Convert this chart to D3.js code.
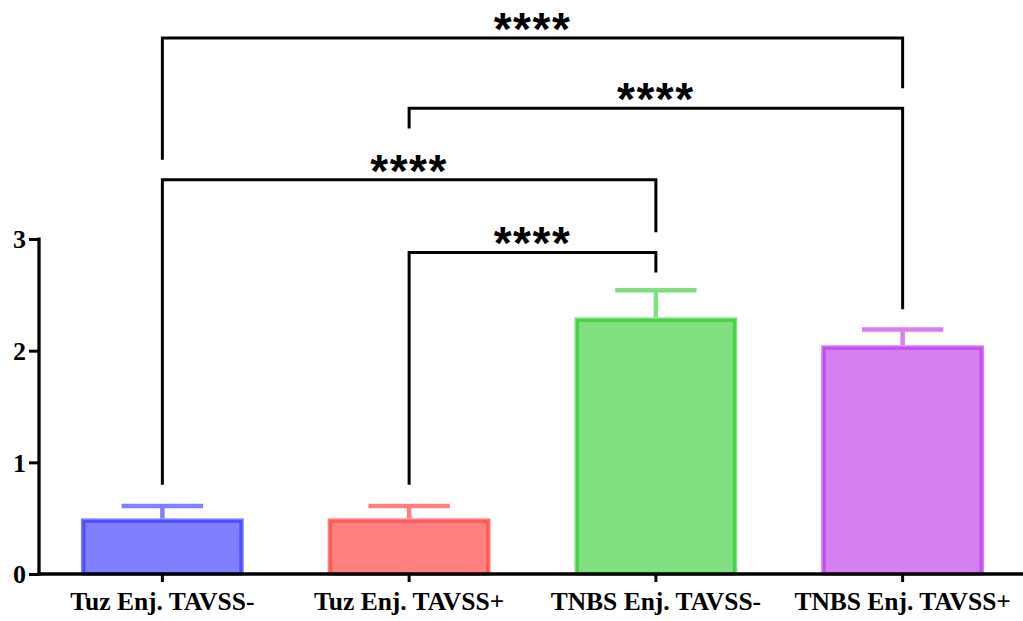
<!DOCTYPE html>
<html>
<head>
<meta charset="utf-8">
<script src="https://cdn.jsdelivr.net/npm/d3@7"></script>
<style>
  html, body { margin: 0; padding: 0; background: #fff; }
  svg { display: block; }
</style>
</head>
<body>
<svg id="chart" width="1023" height="621"></svg>
<script>
// Group labels and their means / upper error (mean + SD)
const groups = ["Tuz Enj. TAVSS-", "Tuz Enj. TAVSS+", "TNBS Enj. TAVSS-", "TNBS Enj. TAVSS+"];
const means = [0.48, 0.48, 2.28, 2.03];
const errors = [0.13, 0.13, 0.26, 0.16];
const fills = ["#8080ff", "#ff8080", "#80e080", "#d580f0"];
const strokes = ["#4f4fff", "#ff5a5a", "#48d048", "#c44ff0"];
const yTicks = [0, 1, 2, 3];

// Pairwise comparisons: [from index, to index, label, bracket height in data units]
const comparisons = [
  [0, 3, "****", 4.80],
  [1, 3, "****", 4.17],
  [0, 2, "****", 3.53],
  [1, 2, "****", 2.88]
];
// Data value at the foot of each bracket's left and right leg
const legFoot = [
  [3.71, 4.35],
  [3.99, 2.37],
  [0.80, 3.06],
  [0.80, 2.70]
];

const svg = d3.select("#chart");
const left = 39, right = 1026, bottom = 574;

const x = d3.scaleBand().domain(groups).range([left, right])
  .paddingInner(0.34).paddingOuter(0.17);
const y = d3.scaleLinear().domain([0, 3]).range([bottom, 239]);

// Bars: full fill with an inset darker outline
const bars = svg.append("g");
groups.forEach((g, i) => {
  const x0 = x(g), w = x.bandwidth();
  bars.append("rect")
    .attr("x", x0).attr("y", y(means[i]) - 2)
    .attr("width", w).attr("height", bottom - y(means[i]) + 2)
    .attr("fill", fills[i]);
  bars.append("rect")
    .attr("x", x0 + 3).attr("y", y(means[i]) + 1)
    .attr("width", w - 6).attr("height", bottom - y(means[i]) - 1)
    .attr("fill", "none").attr("stroke", strokes[i]).attr("stroke-width", 3);
});

// Error bars (upper only)
const eb = svg.append("g");
groups.forEach((g, i) => {
  const cx = x(g) + x.bandwidth() / 2;
  const top = y(means[i] + errors[i]);
  eb.append("line")
    .attr("x1", cx).attr("x2", cx)
    .attr("y1", y(means[i]) - 2).attr("y2", top)
    .attr("stroke", fills[i]).attr("stroke-width", 4.5);
  eb.append("line")
    .attr("x1", cx - x.bandwidth() / 4).attr("x2", cx + x.bandwidth() / 4)
    .attr("y1", top).attr("y2", top)
    .attr("stroke", fills[i]).attr("stroke-width", 4.5);
});

// Y axis
const yAxis = svg.append("g")
  .attr("transform", `translate(${left},0)`)
  .call(d3.axisLeft(y).tickValues(yTicks).tickFormat(d3.format("d")).tickSize(10).tickPadding(3));
yAxis.select(".domain").attr("stroke", "#000").attr("stroke-width", 3.3)
  .attr("d", `M0,${bottom + 1.5}V${y(3) - 1.5}`);
yAxis.selectAll(".tick line").attr("stroke", "#000").attr("stroke-width", 3);
yAxis.selectAll(".tick text")
  .attr("font-family", "Liberation Serif, Times New Roman, serif")
  .attr("font-weight", "bold").attr("font-size", 26).attr("fill", "#000")
  .attr("dy", "0.34em");

// X axis
const xAxis = svg.append("g")
  .attr("transform", `translate(0,${bottom})`)
  .call(d3.axisBottom(x).tickSize(8));
xAxis.select(".domain").attr("stroke", "#000").attr("stroke-width", 3.3)
  .attr("d", `M${left - 1.5},0H1023`);
xAxis.selectAll(".tick line").attr("stroke", "#000").attr("stroke-width", 3);
xAxis.selectAll(".tick text")
  .attr("font-family", "Liberation Serif, Times New Roman, serif")
  .attr("font-weight", "bold").attr("font-size", 25.5).attr("fill", "#000")
  .attr("y", 36).attr("dy", 0);

// Significance brackets
const br = svg.append("g");
comparisons.forEach(([a, b, label, h], k) => {
  const xa = x(groups[a]) + x.bandwidth() / 2;
  const xb = x(groups[b]) + x.bandwidth() / 2;
  const yh = y(h);
  br.append("path")
    .attr("d", `M${xa},${y(legFoot[k][0])}V${yh}H${xb}V${y(legFoot[k][1])}`)
    .attr("fill", "none").attr("stroke", "#000").attr("stroke-width", 3)
    .attr("stroke-linejoin", "miter");
  br.append("text")
    .attr("x", (xa + xb) / 2).attr("y", yh + 7)
    .attr("text-anchor", "middle")
    .attr("font-family", "Liberation Sans, Arial, sans-serif")
    .attr("font-weight", "bold").attr("font-size", 46)
    .attr("letter-spacing", "1.5px")
    .attr("fill", "#000")
    .text(label);
});
</script>
</body>
</html>
